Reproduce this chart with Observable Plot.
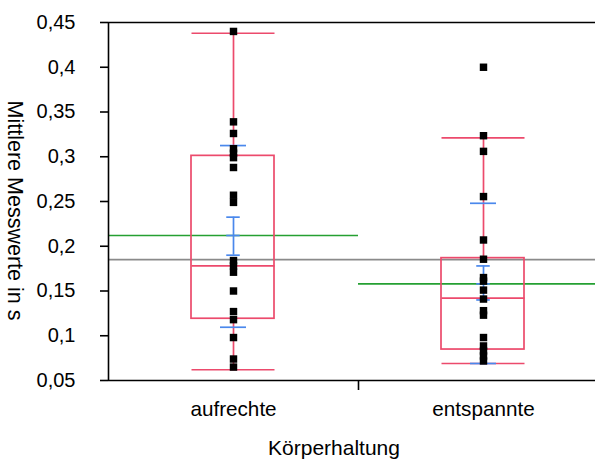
<!DOCTYPE html>
<html>
<head>
<meta charset="utf-8">
<script src="https://cdn.jsdelivr.net/npm/d3@7"></script>
<script src="https://cdn.jsdelivr.net/npm/@observablehq/plot@0.6"></script>
<style>
  html, body { margin: 0; padding: 0; background: #fff; }
  #chart { width: 595px; height: 460px; }
</style>
</head>
<body>
<div id="chart"></div>
<script>
// Körperhaltung groups and the individual mean response times (s)
const groups = ["aufrechte", "entspannte"];
const valuesAufrechte = [0.440, 0.339, 0.326, 0.309, 0.304, 0.299, 0.288, 0.257, 0.249,
  0.184, 0.178, 0.171, 0.150, 0.127, 0.118, 0.098, 0.074, 0.065];
const valuesEntspannte = [0.400, 0.3235, 0.306, 0.2555, 0.207, 0.1855, 0.165, 0.161, 0.151,
  0.141, 0.128, 0.123, 0.098, 0.0886, 0.083, 0.0774, 0.0718];

// box-plot summaries per group
const whiskerLow  = [0.062, 0.069];
const quartile1   = [0.119, 0.0846];
const medians     = [0.178, 0.142];
const quartile3   = [0.301, 0.1867];
const whiskerHigh = [0.438, 0.321];

// group means, confidence interval of the mean, mean ± standard deviation
const groupMeans = [0.212, 0.158];
const ciLow  = [0.190, 0.140];
const ciHigh = [0.2325, 0.178];
const sdLow  = [0.1095, 0.069];
const sdHigh = [0.3125, 0.248];

// mean over all observations
const grandMean = 0.185;

const yTicks = [0.05, 0.1, 0.15, 0.2, 0.25, 0.3, 0.35, 0.4, 0.45];

// ---- derived tables ----
const summary = groups.map((g, i) => ({
  group: g, i,
  low: whiskerLow[i], q1: quartile1[i], median: medians[i], q3: quartile3[i], high: whiskerHigh[i],
  mean: groupMeans[i], ciLow: ciLow[i], ciHigh: ciHigh[i], sdLow: sdLow[i], sdHigh: sdHigh[i]
}));
const points = [valuesAufrechte, valuesEntspannte]
  .flatMap((vals, i) => vals.map(v => ({i, value: v})));

// half-widths of horizontal pieces, as a share of one group's band
const boxHalf = 0.166;
const sdHalf = 0.052;
const ciHalf = 0.027;

const RED = "#ec4a6c";
const BLUE = "#4a88ec";
const GREEN = "#25a032";
const GRAY = "#8a8a8a";
const FONT = "Liberation Sans, Arial, Helvetica, sans-serif";

const center = d => d.i + 0.5;
const hRule = (field, half, stroke) => Plot.ruleY(summary, {
  y: field, x1: d => center(d) - half, x2: d => center(d) + half, stroke, strokeWidth: 1.7
});

const fmt = v => String(+v.toFixed(2)).replace(".", ",");

const chart = Plot.plot({
  width: 595,
  height: 460,
  marginTop: 22,
  marginBottom: 80,
  marginLeft: 108,
  marginRight: 0,
  style: {fontFamily: FONT, fontSize: "20px", color: "#000", background: "#fff"},
  x: {domain: [0, 2], range: [108, 608]},
  y: {domain: [0.05, 0.45]},
  marks: [
    // reference lines: overall mean and group means
    Plot.ruleY([grandMean], {stroke: GRAY, strokeWidth: 1.7}),
    Plot.ruleY(summary, {y: "mean", x1: d => d.i, x2: d => d.i + 1, stroke: GREEN, strokeWidth: 1.7}),

    // box, median and whiskers
    Plot.rect(summary, {x1: d => d.i, x2: d => d.i + 1, y1: "q1", y2: "q3",
      insetLeft: 83, insetRight: 84, fill: "none", stroke: RED, strokeWidth: 1.7}),
    hRule("median", boxHalf, RED),
    Plot.ruleX(summary, {x: center, y1: "q3", y2: "high", stroke: RED, strokeWidth: 1.7}),
    Plot.ruleX(summary, {x: center, y1: "low", y2: "q1", stroke: RED, strokeWidth: 1.7}),
    hRule("high", boxHalf, RED),
    hRule("low", boxHalf, RED),

    // mean with confidence interval and standard deviation
    Plot.ruleX(summary, {x: center, y1: "ciLow", y2: "ciHigh", stroke: BLUE, strokeWidth: 1.7}),
    hRule("ciLow", ciHalf, BLUE),
    hRule("ciHigh", ciHalf, BLUE),
    hRule("mean", ciHalf, BLUE),
    hRule("sdLow", sdHalf, BLUE),
    hRule("sdHigh", sdHalf, BLUE),

    // individual observations
    Plot.dot(points, {x: d => d.i + 0.5, y: "value", symbol: "square", r: 4.2, fill: "#000"}),

    // frame lines
    Plot.ruleY([0.45, 0.05], {stroke: "#000", strokeWidth: 1.6}),
    Plot.ruleX([0], {stroke: "#000", strokeWidth: 1.6}),

    // axes
    Plot.axisY({ticks: yTicks, tickFormat: fmt, tickSize: 8, tickPadding: 25,
      fontSize: 20, strokeWidth: 1.6, label: null}),
    Plot.axisX({ticks: [1], tickSize: 10, tickFormat: () => "", strokeWidth: 1.6, label: null}),
    Plot.axisX({ticks: [0.5, 1.5], tickSize: 0, tickPadding: 21,
      tickFormat: v => groups[Math.floor(v)], fontSize: 20.7, label: null}),

    // axis titles
    Plot.text(["Mittlere Messwerte in s"], {frameAnchor: "left", textAnchor: "middle",
      lineAnchor: "middle", rotate: 90, dx: -94, dy: 9, fontSize: 21.5, fill: "#000"}),
    Plot.text(["Körperhaltung"], {frameAnchor: "bottom", textAnchor: "middle",
      lineAnchor: "top", dx: -18, dy: 60, fontSize: 21, fill: "#000"})
  ]
});

document.getElementById("chart").appendChild(chart);
</script>
</body>
</html>
